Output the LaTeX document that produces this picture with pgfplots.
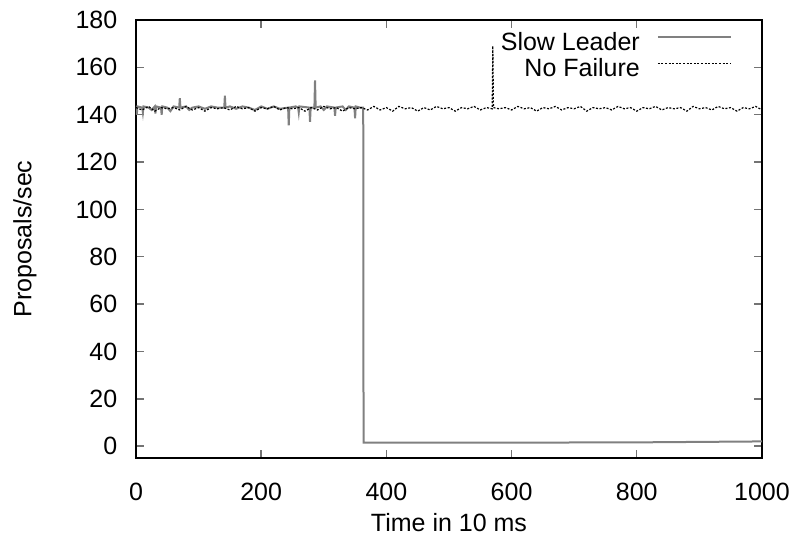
\documentclass[border=0pt]{standalone}
\usepackage{fontspec}
\setmainfont{Liberation Sans}
\usepackage{pgfplots}
\pgfplotsset{compat=1.18}
\begin{document}
\fontsize{12.5}{15}\selectfont
\begin{tikzpicture}
\useasboundingbox (-68pt,-41.5pt) rectangle (332pt,229pt);
\begin{axis}[
  scale only axis,
  width=313pt, height=219pt,
  at={(0,0)}, anchor=south west,
  xmin=0, xmax=1000, ymin=-5, ymax=180,
  xtick={0,200,...,1000}, ytick={0,20,...,180},
  tick align=inside,
  major tick length=4pt,
  tick style={black!55, line width=0.7pt},
  axis line style={black, line width=0.8pt},
  /pgf/number format/assume math mode=true,
  /pgf/number format/1000 sep={},
  xticklabel style={yshift=-8pt},
  yticklabel style={xshift=-5pt},
  xlabel={Time in 10 ms},
  ylabel={Proposals/sec},
  xlabel style={at={(axis description cs:0.5,-0.148)}, anchor=center},
  ylabel style={at={(axis description cs:-0.1773,0.5)}, anchor=center},
  legend cell align=right,
  legend plot pos=right,
  legend style={draw=none, fill=none, at={(axis description cs:0.962,0.982)}, anchor=north east,
    nodes={inner sep=0pt, text height=9pt, text depth=2.5pt},
    row sep=1.5pt, column sep=8.5pt},
  legend image code/.code={\draw[#1] (0pt,3.3pt) -- (36.5pt,3.3pt);},
]
\addplot[black!50, line width=1pt] table {
x y
0 143.5
1.2 140
2.4 143.5
10 143
11 141
12 143.5
20 143
25 142
30 143.5
31 140.5
32 143.5
40 143
41 140
42 143.5
50 143
55 141.5
60 143.5
69 143
70 147
71 143
80 143.5
85 142
90 143
100 143.5
110 142.5
120 143.5
130 143
141 143
142 148
143 143
150 143.5
160 142.5
170 143.5
180 143
190 142
200 143.5
210 142.5
220 143.5
230 142.5
243 143
244 135.5
245 143
255 143.5
259 143
260 141
261 143.5
277 143
278 137
279 143
285 143
286 154.5
287 143
295 143.5
300 142
305 143.5
317 143
318 139.5
319 143
330 143.5
335 142
340 143.5
349 143
350 138.5
351 143.5
358 143
363 143
363.5 1.5
600 1.5
800 1.6
1000 2
};
\addlegendentry{Slow Leader}
\addplot[black, line width=0.6pt, dash pattern=on 1pt off 0.8pt] table {
x y
0 143
10 142
20 143.5
30 141.5
40 143
50 142.5
60 143
70 142
80 143.5
90 142
100 143
110 141.5
120 143
130 142.5
140 143
150 142
160 143.5
170 142.5
180 143
190 141.5
200 143
210 142.5
220 143.5
230 142
240 143
250 142.5
260 143
270 141.5
280 143
290 142
300 143.5
310 142.5
320 143
330 141.5
340 143
350 142.5
360 143
370 142
380 143.5
390 142
400 143
410 141.5
420 143.5
430 142.5
440 143
450 141.5
460 143
470 142
480 143.5
490 142.5
500 143
510 141.5
520 143
530 142.5
540 143.5
550 142
560 143
569 142.5
570 169
571 143
580 142.5
590 143
600 142
610 143.5
620 142.5
630 143
640 141.5
650 143
660 142.5
670 143.5
680 142
690 143
700 142.5
710 143.5
720 141.5
730 143
740 142.5
750 143
760 142
770 143.5
780 142.5
790 143
800 141.5
810 143
820 142.5
830 143.5
840 142
850 143
860 142.5
870 143
880 141.5
890 143.5
900 142.5
910 143
920 142
930 143.5
940 142.5
950 143
960 141.5
970 143
980 142.5
990 143.5
1000 142
};
\addlegendentry{No Failure}
\end{axis}
\end{tikzpicture}
\end{document}
